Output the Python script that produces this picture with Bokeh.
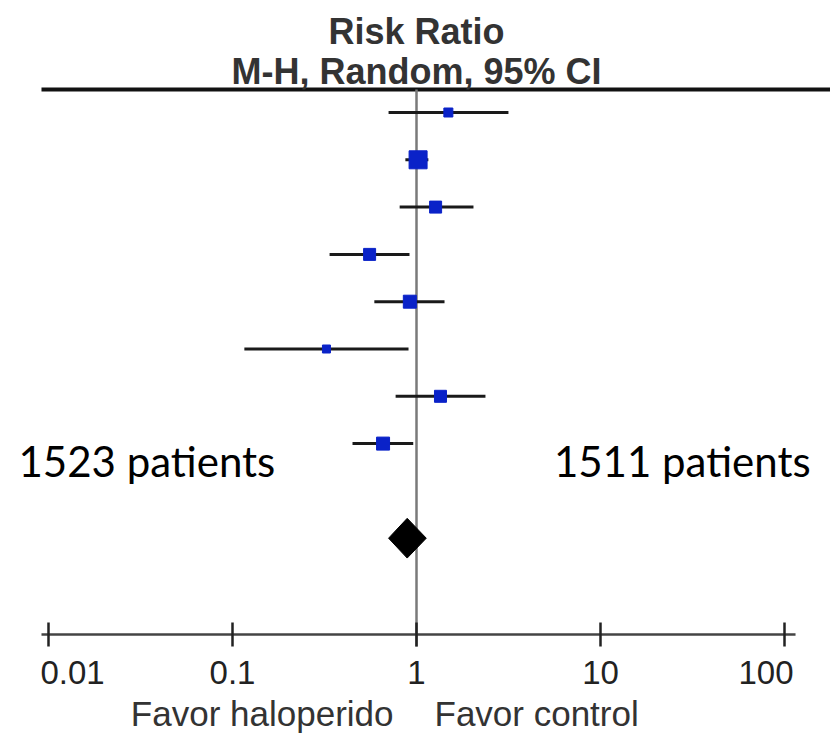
import numpy as np
from bokeh.plotting import figure
from bokeh.models import ColumnDataSource, Range1d
from bokeh.core.properties import value
from bokeh.embed import file_html
from bokeh.resources import INLINE

# ---- data ----
rr = [1.49, 1.02, 1.27, 0.556, 0.92, 0.324, 1.35, 0.658]
ci_low = [0.705, 0.87, 0.81, 0.337, 0.59, 0.116, 0.77, 0.449]
ci_high = [3.16, 1.16, 2.04, 0.916, 1.42, 0.905, 2.37, 0.96]
weight = [9, 18, 12, 12, 13, 8, 12, 13]
pooled_rr = 0.89
pooled_low = 0.705
pooled_high = 1.13
tick_values = [0.01, 0.1, 1, 10, 100]
tick_labels = ["0.01", "0.1", "1", "10", "100"]
n_haloperidol = "1523 patients"
n_control = "1511 patients"

rows = [-i for i in range(len(rr))]
pooled_row = -9.0
axis_row = -11.036
top_row = 0.486

X_LO, X_HI = 10 ** -2.26087, 10 ** 2.25

p = figure(width=830, height=733, x_axis_type="log",
           x_range=Range1d(X_LO, X_HI),
           y_range=Range1d(-13.1289, 2.3679),
           output_backend="svg", toolbar_location=None,
           min_border=0, outline_line_color=None)
p.axis.visible = False
p.grid.visible = False
p.background_fill_color = "white"

# header line
p.segment(x0=[0.00916], y0=[top_row], x1=[X_HI], y1=[top_row],
          line_color="#111111", line_width=4)
# reference line at RR = 1
p.segment(x0=[1], y0=[top_row], x1=[1], y1=[-11.29], line_color="#7a7a7a", line_width=2.5)

# confidence intervals
src = ColumnDataSource(dict(rr=rr, lo=ci_low, hi=ci_high, y=rows, w=weight))
p.segment(x0="lo", y0="y", x1="hi", y1="y", source=src, line_color="#1a1a1a", line_width=3)
p.scatter(x="rr", y="y", size="w", marker="square", source=src,
          fill_color="#0a22c8", line_color="#0a22c8")

# pooled diamond
dh = 0.42
p.patch(x=[pooled_low, pooled_rr, pooled_high, pooled_rr],
        y=[pooled_row, pooled_row + dh, pooled_row, pooled_row - dh],
        fill_color="black", line_color="black")

# x axis (log)
p.segment(x0=[0.00916], y0=[axis_row], x1=[114.8], y1=[axis_row], line_color="#444444", line_width=2.5)
p.scatter(x=tick_values, y=[axis_row] * len(tick_values), marker="dash", angle=np.pi / 2,
          size=24, line_color="#222222", line_width=2.5)
tsrc = ColumnDataSource(dict(x=tick_values, y=[axis_row] * len(tick_values), t=tick_labels,
                             align=["left", "center", "center", "center", "right"],
                             dx=[-8, 0, 0, 0, 9]))
p.text(x="x", y="y", text="t", source=tsrc, text_align="align", x_offset="dx", y_offset=38,
       text_baseline="alphabetic", text_font=value("Liberation Sans"),
       text_font_size="33px", text_color="#222222")

p.text(x=[1], y=[axis_row], text=["Favor haloperido"], x_offset=-23, y_offset=79,
       text_align="right", text_baseline="alphabetic", text_font=value("Liberation Sans"),
       text_font_size="35px", text_color="#333333")
p.text(x=[1], y=[axis_row], text=["Favor control"], x_offset=18, y_offset=79,
       text_align="left", text_baseline="alphabetic", text_font=value("Liberation Sans"),
       text_font_size="35px", text_color="#333333")

# header texts
p.text(x=[1], y=[1.7125], text=["Risk Ratio"], text_align="center", text_baseline="alphabetic",
       text_font=value("Liberation Sans"), text_font_style="bold",
       text_font_size="36px", text_color="#333333")
p.text(x=[1], y=[0.8668], text=["M-H, Random, 95% CI"], text_align="center", text_baseline="alphabetic",
       text_font=value("Liberation Sans"), text_font_style="bold",
       text_font_size="36px", text_color="#333333")

# patient counts
p.text(x=[0.00687], y=[-7.378], text=[n_haloperidol], text_align="left", text_baseline="alphabetic",
       text_font=value("Lato"), text_font_size="42px", text_color="black")
p.text(x=[5.58], y=[-7.378], text=[n_control], text_align="left", text_baseline="alphabetic",
       text_font=value("Lato"), text_font_size="42px", text_color="black")

open("out.html", "w").write(file_html(p, INLINE))
